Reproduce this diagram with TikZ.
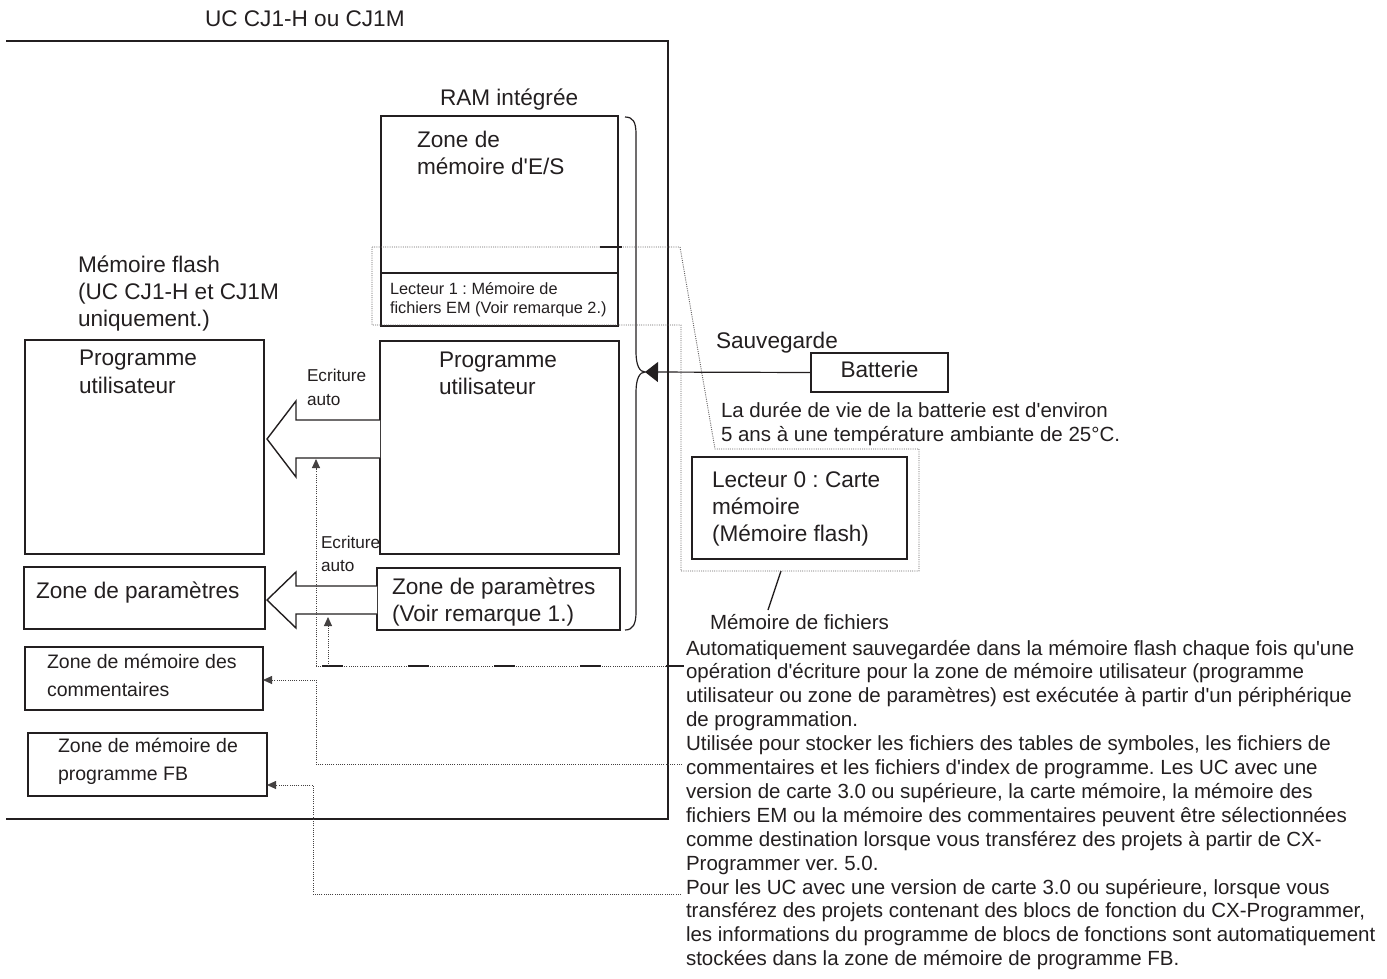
\documentclass[tikz,border=0pt]{standalone}
\usepackage{fontspec}
\setmainfont{Liberation Sans}[Ligatures=TeXOff]
\usetikzlibrary{arrows.meta}
\definecolor{ink}{RGB}{35,31,32}
\frenchspacing
\newcommand\mlines[2]{\vtop{\baselineskip=#1\lineskip=0pt\lineskiplimit=-100pt\halign{##\hfil\cr#2\crcr}}}
\newcommand\fbig{\fontsize{22.6pt}{27pt}\selectfont}
\newcommand\fmid{\fontsize{20.5pt}{24pt}\selectfont}
\newcommand\fcom{\fontsize{19.5pt}{24pt}\selectfont}
\newcommand\fsma{\fontsize{17.2pt}{22pt}\selectfont}
\newcommand\ftiny{\fontsize{16.3pt}{19pt}\selectfont}
\begin{document}
\begin{tikzpicture}[x=1pt,y=-1pt,
  every node/.style={text=ink},
  txt/.style={anchor=base west, inner sep=0pt, outer sep=0pt},
  bx/.style={draw=ink, line width=1.4pt, inner sep=0pt, outer sep=0pt, anchor=north west},
  thickbx/.style={bx, line width=2.4pt},
  outerline/.style={draw=ink, line width=2.2pt},
  dotline/.style={draw=ink!85, line width=0.9pt, dash pattern=on 1pt off 1.2pt},
  fatarrow/.style={draw=ink, line width=1.4pt, fill=white, line join=miter},
  smalltip/.style={-{Triangle[length=9pt,width=8pt]}},
]
\useasboundingbox (0,0) rectangle (1387,979);

% outer CPU box (open on the left)
\coordinate (otl) at (6,41);
\coordinate (otr) at (668,41);
\coordinate (obr) at (668,819);
\coordinate (obl) at (6,819);
\draw[outerline] (otl) -- (otr) -- (obr) -- (obl);
\node[txt] (title) at (205,27) {\fbig UC CJ1-H ou CJ1M};

% RAM
\node[txt] (ramlbl) at (440,106) {\fbig RAM intégrée};
\node[bx, minimum width=237pt, minimum height=210pt] (iobox) at (381,116) {};
\node[txt] (iotxt) at (417,148) {\fbig\mlines{27pt}{Zone de\cr mémoire d'E/S}};
\node[thickbx, line width=2pt, minimum width=237pt, minimum height=53pt] (lect1) at (381,273) {};
\node[txt] (lect1txt) at (390,294) {\ftiny\mlines{19pt}{Lecteur 1 : Mémoire de\cr fichiers EM (Voir remarque 2.)}};
\node[bx, minimum width=239pt, minimum height=213pt] (rprog) at (380,341) {};
\node[txt] (rprogtxt) at (439,367) {\fbig\mlines{27pt}{Programme\cr utilisateur}};
\node[bx, minimum width=243pt, minimum height=62pt] (rparam) at (377,568) {};
\node[txt] (rparamtxt) at (392,594) {\fbig\mlines{27pt}{Zone de paramètres\cr (Voir remarque 1.)}};

% flash memory
\node[txt] (flashlbl) at (78,272) {\fbig\mlines{27pt}{Mémoire flash\cr (UC CJ1-H et CJ1M\cr uniquement.)}};
\node[bx, minimum width=239pt, minimum height=214pt] (fprog) at (25,340) {};
\node[txt] (fprogtxt) at (79,365) {\fbig\mlines{28pt}{Programme\cr utilisateur}};
\node[bx, minimum width=241pt, minimum height=62pt] (fparam) at (24,567) {};
\node[txt] (fparamtxt) at (36,598) {\fbig Zone de paramètres};
\node[bx, minimum width=238pt, minimum height=63pt] (comm) at (25,647) {};
\node[txt] (commtxt) at (47,668) {\fcom\mlines{28pt}{Zone de mémoire des\cr commentaires}};
\node[bx, minimum width=239pt, minimum height=63pt] (fb) at (28,733) {};
\node[txt] (fbtxt) at (58,752) {\fcom\mlines{28pt}{Zone de mémoire de\cr programme FB}};

% fat arrows (auto write)
\draw[fatarrow] (380,420) -- (296,420) -- (296,401) -- (267,439) -- (296,477) -- (296,458) -- (380,458);
\draw[fatarrow] (377,586) -- (296,586) -- (296,572) -- (267,600) -- (296,628) -- (296,614) -- (377,614);
\node[txt] (ecr1) at (307,381) {\fsma\mlines{24pt}{Ecriture\cr auto}};
\node[txt] (ecr2) at (321,548) {\fsma\mlines{23pt}{Ecriture\cr auto}};

% brace
\coordinate (btip) at (645,372);
\draw[ink, line width=1.2pt] (625,117) .. controls (633,117) and (636,122) .. (636,134)
  -- (636,352) .. controls (636,366) and (640,372) .. (btip)
  .. controls (640,372) and (636,378) .. (636,392)
  -- (636,612) .. controls (636,624) and (633,630) .. (625,630);

% battery
\node[txt] (sauv) at (716,348) {\fbig Sauvegarde};
\node[bx, minimum width=137pt, minimum height=39pt] (bat) at (811,353) {};
\node[inner sep=0pt] (battxt) at (bat.center) {\fbig\strut Batterie};
\draw[ink, line width=1.2pt, -{Triangle[length=13pt,width=20pt]}] (bat.west) -- (btip);
\node[txt] (batinfo) at (721,417) {\fmid\mlines{24.5pt}{La durée de vie de la batterie est d'environ\cr 5 ans à une température ambiante de 25°C.}};

% memory card
\node[thickbx, minimum width=215pt, minimum height=102pt] (card) at (692,457) {};
\node[txt] (cardtxt) at (712,487) {\fbig\mlines{27pt}{Lecteur 0 : Carte\cr mémoire\cr (Mémoire flash)}};
\coordinate (s1) at (781,571);
\coordinate (s2) at (768,610);
\draw[ink, line width=1.4pt] (s1) -- (s2);
\node[txt] (fichiers) at (710,629) {\fmid Mémoire de fichiers};

% zoom outline (drive 1 -> memory card)
\coordinate (z1) at (372,247);
\coordinate (z2) at (680,247);
\coordinate (z3) at (715,449);
\coordinate (z4) at (919,449);
\coordinate (z5) at (919,571);
\coordinate (z6) at (681,571);
\coordinate (z7) at (681,325);
\coordinate (z8) at (372,325);
\draw[dotline, draw=ink!70] (z1) -- (z2) -- (z3) -- (z4) -- (z5) -- (z6) -- (z7) -- (z8) -- cycle;
\coordinate (tk1) at (600,247);
\coordinate (tk2) at (622,247);
\draw[ink, line width=2pt] (tk1) -- (tk2);

% right-hand description
\node[txt] (desc) at (686,655) {\fmid\mlines{23.9pt}{%
Automatiquement sauvegardée dans la mémoire flash chaque fois qu'une\cr
opération d'écriture pour la zone de mémoire utilisateur (programme\cr
utilisateur ou zone de paramètres) est exécutée à partir d'un périphérique\cr
de programmation.\cr
Utilisée pour stocker les fichiers des tables de symboles, les fichiers de\cr
commentaires et les fichiers d'index de programme. Les UC avec une\cr
version de carte 3.0 ou supérieure, la carte mémoire, la mémoire des\cr
fichiers EM ou la mémoire des commentaires peuvent être sélectionnées\cr
comme destination lorsque vous transférez des projets à partir de CX-\cr
Programmer ver. 5.0.\cr
Pour les UC avec une version de carte 3.0 ou supérieure, lorsque vous\cr
transférez des projets contenant des blocs de fonction du CX-Programmer,\cr
les informations du programme de blocs de fonctions sont automatiquement\cr
stockées dans la zone de mémoire de programme FB.}};

% leader lines
\coordinate (d1) at (684,666);
\coordinate (d1a) at (316,666);
\coordinate (d1b) at (328,666);
\coordinate (up1) at (316,459);
\coordinate (up2) at (328,617);
\draw[dotline] (d1) -- (d1a);
\draw[ink, line width=2pt, dash pattern=on 21pt off 65pt] (322,666) -- (d1);
\draw[dotline, smalltip] (d1a) -- (up1);
\draw[dotline, smalltip] (d1b) -- (up2);

\coordinate (d2) at (682,764);
\coordinate (d2a) at (316,764);
\coordinate (d2b) at (316,680);
\draw[dotline, smalltip] (d2) -- (d2a) -- (d2b) -- (comm.east |- d2b);

\coordinate (d3) at (681,894);
\coordinate (d3a) at (313,894);
\coordinate (d3b) at (313,785);
\draw[dotline, smalltip] (d3) -- (d3a) -- (d3b) -- (fb.east |- d3b);
\end{tikzpicture}
\end{document}
